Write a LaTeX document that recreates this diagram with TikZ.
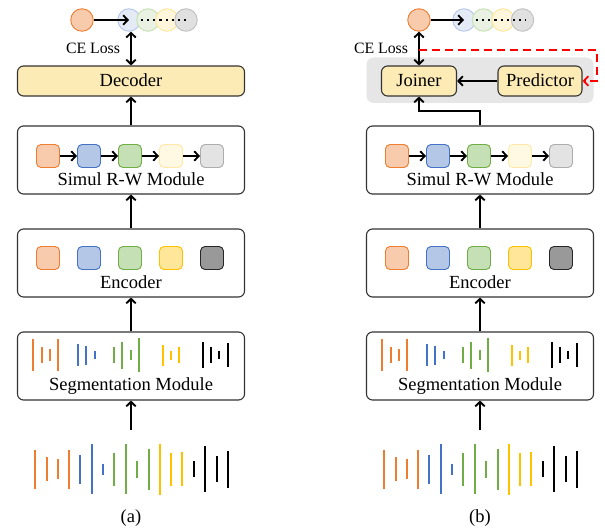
\documentclass[tikz,border=0pt]{standalone}
\usepackage{fontspec}
\setmainfont{Liberation Serif}
\usetikzlibrary{arrows.meta}
\definecolor{orS}{HTML}{ED7D31}\definecolor{orF}{HTML}{F8CBAD}
\definecolor{blS}{HTML}{4472C4}\definecolor{blF}{HTML}{B4C7E7}
\definecolor{grS}{HTML}{70AD47}\definecolor{grF}{HTML}{C5E0B4}
\definecolor{yeS}{HTML}{FFC000}\definecolor{yeF}{HTML}{FFE699}
\definecolor{pyS}{HTML}{FFE9A8}\definecolor{pyF}{HTML}{FFF8E3}
\definecolor{lgS}{HTML}{ADADAD}\definecolor{lgF}{HTML}{E3E3E3}
\definecolor{dgS}{HTML}{262626}\definecolor{dgF}{HTML}{999999}
\definecolor{cbS}{HTML}{B4C7E7}\definecolor{cbF}{HTML}{E5EBF6}
\definecolor{cgS}{HTML}{C5E0B4}\definecolor{cgF}{HTML}{E8F1E2}
\definecolor{cyS}{HTML}{FFE699}\definecolor{cyF}{HTML}{FFF6DC}
\definecolor{ckS}{HTML}{BFBFBF}\definecolor{ckF}{HTML}{E0E0E0}
\definecolor{boxline}{HTML}{333333}
\definecolor{decF}{HTML}{FDEBB6}
\definecolor{bgray}{HTML}{E6E6E6}
\tikzset{
  lbl/.style={inner sep=0pt, font=\fontsize{18.5}{20}\selectfont},
  smalllbl/.style={inner sep=0pt, font=\fontsize{15.8}{17}\selectfont},
  box/.style={draw=boxline, line width=1.1pt, rounded corners=6pt, minimum width=227pt, minimum height=68pt, inner sep=0pt},
  ybox/.style={draw=boxline, fill=decF, line width=1.1pt, rounded corners=6pt, minimum height=30pt, inner sep=0pt},
  sq/.style={line width=0.9pt, rounded corners=4.5pt, minimum size=23pt, inner sep=0pt},
  circ/.style={circle, line width=0.9pt, minimum size=22.5pt, inner sep=0pt},
  cOr/.style={draw=orS, fill=orF}, cBl/.style={draw=blS, fill=blF},
  cGr/.style={draw=grS, fill=grF}, cYe/.style={draw=yeS, fill=yeF},
  cPy/.style={draw=pyS, fill=pyF}, cLg/.style={draw=lgS, fill=lgF},
  cDg/.style={draw=dgS, fill=dgF},
  cCb/.style={draw=cbS, fill=cbF}, cCg/.style={draw=cgS, fill=cgF},
  cCy/.style={draw=cyS, fill=cyF}, cCk/.style={draw=ckS, fill=ckF},
  arr/.style={line width=1.9pt, -{Straight Barb[length=4.5pt,width=9.5pt]}},
  darr/.style={line width=1.9pt, {Straight Barb[length=4.5pt,width=9.5pt]}-{Straight Barb[length=4.5pt,width=9.5pt]}},
  bar/.style={line width=2.2pt},
  dotline/.style={line width=2.2pt, dash pattern=on 2.2pt off 4pt},
  reddash/.style={draw=red, line width=1.8pt, dash pattern=on 8pt off 5pt, -{Straight Barb[length=4.5pt,width=9.5pt]}}
}
\newcommand{\lowerpanel}[1]{%
  \node[box] (simul) at (131,160) {};
  \node[box] (enc) at (131,263) {};
  \node[box] (seg) at (131,366) {};
  \node[lbl, anchor=base] (simultxt) at (131,186) {Simul R-W Module};
  \node[lbl, anchor=base] (enctxt) at (131,289) {Encoder};
  \node[lbl, anchor=base] (segtxt) at (131,390) {Segmentation Module};
  \node[sq,cOr] (s1) at (48,156) {};
  \node[sq,cBl] (s2) at (89,156) {};
  \node[sq,cGr] (s3) at (130,156) {};
  \node[sq,cPy] (s4) at (171,156) {};
  \node[sq,cLg] (s5) at (212,156) {};
  \draw[arr] (s1) -- (s2);
  \draw[arr] (s2) -- (s3);
  \draw[arr] (s3) -- (s4);
  \draw[arr] (s4) -- (s5);
  \node[sq,cOr] (e1) at (48,258) {};
  \node[sq,cBl] (e2) at (89,258) {};
  \node[sq,cGr] (e3) at (130,258) {};
  \node[sq,cYe] (e4) at (171,258) {};
  \node[sq,cDg] (e5) at (212,258) {};
  \draw[arr] (enc.north) -- (simul.south);
  \draw[arr] (seg.north) -- (enc.south);
  \coordinate (wavetop) at (131,430);
  \draw[arr] (wavetop) -- (seg.south);
  \foreach \bx/\bh/\bc in {33/16/orS,42/8/orS,50/6/orS,58/16/orS,
      78/11/blS,86/9.5/blS,95/4/blS,
      114/8/grS,122/13.5/grS,131/5/grS,139/17/grS,
      163/10.5/yeS,171/4.5/yeS,179/8/yeS,
      203/13/black,211/8/black,219/4/black,228/12/black}
    {\draw[bar, draw=\bc] (\bx,355-\bh) -- (\bx,355+\bh);}
  \foreach \bx/\bh/\bc in {35/19.5/orS,47/12/orS,58/10/orS,69/19.5/orS,
      80/14.5/blS,92/25/blS,103/5.5/blS,
      114/16.5/grS,126/25/grS,137/8.5/grS,149/20.5/grS,
      160/25.5/yeS,171/16.5/yeS,182/17/yeS,
      194/8/black,205/23/black,217/13/black,228/18.5/black}
    {\draw[bar, draw=\bc] (\bx,469-\bh) -- (\bx,469+\bh);}
  \node[lbl, anchor=base] (cap) at (131,522) {#1};
}
\begin{document}
\begin{tikzpicture}[x=1pt,y=-1pt]
\useasboundingbox (0,0) rectangle (605,529);
% ---------- panel (a) ----------
\begin{scope}[name prefix=a-]
  \lowerpanel{(a)}
\end{scope}
\node[ybox, minimum width=227pt] (dec) at (131,81) {};
\node[lbl, anchor=base] (dectxt) at (131,87) {Decoder};
\draw[arr] (a-simul.north) -- (dec.south);
\node[circ,cCb] (ba) at (129,20) {};
\node[circ,cCg] (ga) at (148,20) {};
\node[circ,cCy] (ya) at (167,20) {};
\node[circ,cCk] (ka) at (186,20) {};
\node[circ,cOr] (oa) at (82,20) {};
\draw[dotline] (ba.east) -- ([xshift=3pt]ka.center);
\draw[arr] (oa.east) -- (ba.center);
\draw[darr] (dec.north) -- (dec.north |- ba.south);
\node[smalllbl, anchor=base] (cea) at (93,54) {CE Loss};
% ---------- panel (b) ----------
\begin{scope}[xshift=349pt, name prefix=b-]
  \lowerpanel{(b)}
\end{scope}
\node[fill=bgray, rounded corners=7pt, minimum width=227pt, minimum height=45.5pt, inner sep=0pt] (jbg) at (480,80.25) {};
\node[ybox, minimum width=75pt] (joiner) at (419,81) {};
\node[lbl, anchor=base] (jointxt) at (419,87) {Joiner};
\node[ybox, minimum width=84pt] (pred) at (540,81) {};
\node[lbl, anchor=base] (predtxt) at (540,87) {Predictor};
\draw[arr] (pred.west) -- (joiner.east);
\coordinate (bend) at (480,111);
\draw[arr] (b-simul.north) -- (bend) -| (joiner.south);
\node[circ,cCb] (bb) at (464,20) {};
\node[circ,cCg] (gb) at (483.5,20) {};
\node[circ,cCy] (yb) at (503,20) {};
\node[circ,cCk] (kb) at (522.5,20) {};
\node[circ,cOr] (ob) at (419,20) {};
\draw[dotline] (bb.east) -- ([xshift=3pt]kb.center);
\draw[arr] (ob.east) -- (bb.center);
\draw[darr] (joiner.north) -- (ob.south);
\node[smalllbl, anchor=base] (ceb) at (381,54) {CE Loss};
\coordinate (rturn) at (597,50);
\draw[reddash] (joiner.north |- rturn) -- (rturn) |- (pred.east);
\end{tikzpicture}
\end{document}
